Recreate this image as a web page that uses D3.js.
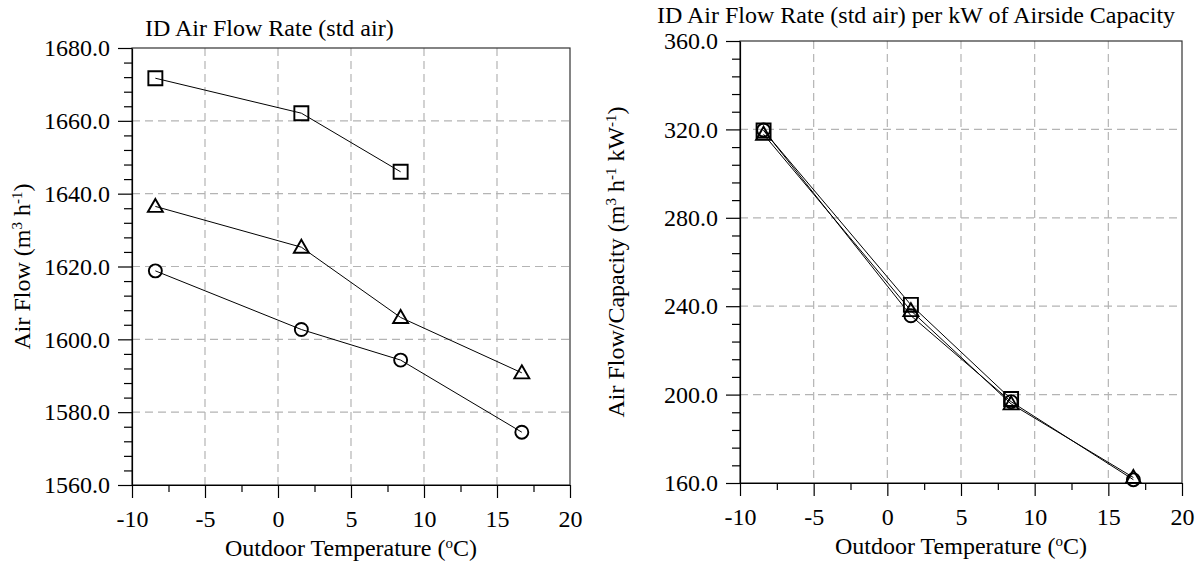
<!DOCTYPE html>
<html>
<head>
<meta charset="utf-8">
<script src="https://cdn.jsdelivr.net/npm/d3@7"></script>
<style>
  body { margin: 0; background: #fff; }
  svg { display: block; }
  svg text { font-family: "Liberation Serif", "Times New Roman", serif !important; fill: #000; }
</style>
</head>
<body>
<svg id="chart" width="1202" height="566"></svg>
<script>
// Outdoor temperatures of the test points (°C)
const temps = [-8.4, 1.6, 8.4, 16.7];

// Indoor air flow rate, std air (m3/h)
const flowSquare   = [1671.7, 1662.1, 1646.0];
const flowTriangle = [1636.5, 1625.3, 1606.0, 1590.8];
const flowCircle   = [1618.8, 1602.7, 1594.3, 1574.5];

// Indoor air flow rate per kW of airside capacity (m3 h-1 kW-1)
const perKwSquare   = [319.5, 240.6, 198.0];
const perKwTriangle = [317.8, 238.0, 195.8, 162.5];
const perKwCircle   = [319.7, 235.7, 196.8, 161.5];

// Tick values
const xTicks = [-10, -5, 0, 5, 10, 15, 20];
const xMinorTicks = [-7.5, -2.5, 2.5, 7.5, 12.5, 17.5];
const flowTicks = [1560, 1580, 1600, 1620, 1640, 1660, 1680];
const perKwTicks = [160, 200, 240, 280, 320, 360];

const svg = d3.select("#chart");
const FONT = 24;
const SERIF = '"Liberation Serif", "Times New Roman", serif';

function symbolPath(shape) {
  if (shape === "square") return "M-7,-7H7V7H-7Z";
  if (shape === "triangle") return "M0,-7.5L7.5,5.5H-7.5Z";
  return d3.arc()({ innerRadius: 0, outerRadius: 6.5, startAngle: 0, endAngle: 2 * Math.PI });
}

function drawPanel(cfg) {
  const g = svg.append("g");
  const x = d3.scaleLinear().domain([-10, 20]).range([cfg.left, cfg.right]);
  const y = d3.scaleLinear().domain(cfg.yDomain).range([cfg.bottom, cfg.top]);

  // dashed grid
  const grid = g.append("g").attr("stroke", "#b4b4b4").attr("stroke-width", 1.2)
    .attr("stroke-dasharray", "8,5");
  grid.selectAll("line.v").data(xTicks.slice(1, -1)).join("line")
    .attr("x1", d => x(d)).attr("x2", d => x(d))
    .attr("y1", cfg.top).attr("y2", cfg.bottom);
  grid.selectAll("line.h").data(cfg.yTicks.slice(1, -1)).join("line")
    .attr("x1", cfg.left).attr("x2", cfg.right)
    .attr("y1", d => y(d)).attr("y2", d => y(d));

  // frame
  g.append("rect")
    .attr("x", cfg.left).attr("y", cfg.top)
    .attr("width", cfg.right - cfg.left).attr("height", cfg.bottom - cfg.top)
    .attr("fill", "none").attr("stroke", "#333").attr("stroke-width", 1.2);

  // x axis: major and minor ticks
  g.append("g").attr("transform", `translate(0,${cfg.bottom})`)
    .call(d3.axisBottom(x).tickValues(xTicks).tickSize(13).tickSizeOuter(0)
      .tickPadding(12).tickFormat(d => String(d)));
  g.append("g").attr("transform", `translate(0,${cfg.bottom})`)
    .call(d3.axisBottom(x).tickValues(xMinorTicks).tickSize(7).tickSizeOuter(0).tickFormat(""))
    .select(".domain").remove();

  // y axis: major and minor ticks
  g.append("g").attr("transform", `translate(${cfg.left},0)`)
    .call(d3.axisLeft(y).tickValues(cfg.yTicks).tickSize(14).tickSizeOuter(0)
      .tickPadding(8).tickFormat(d3.format(".1f")));
  g.append("g").attr("transform", `translate(${cfg.left},0)`)
    .call(d3.axisLeft(y).tickValues(d3.range(cfg.yDomain[0], cfg.yDomain[1] + 1e-9, cfg.yMinorStep)
      .filter(v => !cfg.yTicks.includes(v))).tickSize(8).tickSizeOuter(0).tickFormat(""))
    .select(".domain").remove();

  g.selectAll("g").attr("font-family", SERIF).attr("font-size", FONT);
  g.selectAll(".tick line, .domain").attr("stroke", "#000").attr("stroke-width", 1.2);
  g.selectAll(".tick text").style("font-family", SERIF).style("font-size", FONT + "px")
    .attr("fill", "#000");

  // series lines and hollow markers
  const line = d3.line().x(d => x(d[0])).y(d => y(d[1]));
  cfg.series.forEach(s => {
    const pts = s.values.map((v, i) => [temps[i], v]);
    g.append("path").datum(pts).attr("d", line)
      .attr("fill", "none").attr("stroke", "#000").attr("stroke-width", 1);
    g.selectAll(null).data(pts).join("path")
      .attr("transform", d => `translate(${x(d[0])},${y(d[1])})`)
      .attr("d", symbolPath(s.shape))
      .attr("fill", "none").attr("stroke", "#000").attr("stroke-width", 1.9);
  });

  // titles
  g.append("text").attr("x", cfg.titleX).attr("y", cfg.titleY)
    .style("font-family", SERIF).attr("font-size", FONT).text(cfg.title);

  const xt = g.append("text").attr("x", (cfg.left + cfg.right) / 2).attr("y", cfg.xTitleY)
    .style("font-family", SERIF).attr("text-anchor", "middle").attr("font-size", FONT);
  xt.append("tspan").text("Outdoor Temperature (");
  xt.append("tspan").attr("font-size", 15).attr("dy", -8).text("o");
  xt.append("tspan").attr("dy", 8).text("C)");

  const yt = g.append("text")
    .attr("transform", `translate(${cfg.yTitleX},${(cfg.top + cfg.bottom) / 2}) rotate(-90)`)
    .style("font-family", SERIF).attr("text-anchor", "middle").attr("font-size", FONT);
  cfg.yTitle.forEach(part => {
    const t = yt.append("tspan").text(part.t);
    if (part.sup) t.attr("font-size", 15).attr("dy", -8);
    if (part.after) t.attr("dy", 8);
  });
}

drawPanel({
  left: 132, right: 570, top: 48, bottom: 485,
  yDomain: [1560, 1680], yTicks: flowTicks, yMinorStep: 4,
  title: "ID Air Flow Rate (std air)", titleX: 145, titleY: 36,
  xTitleY: 556, yTitleX: 30,
  yTitle: [{ t: "Air Flow (m" }, { t: "3", sup: true }, { t: " h", after: true },
           { t: "-1", sup: true }, { t: ")", after: true }],
  series: [
    { shape: "square", values: flowSquare },
    { shape: "triangle", values: flowTriangle },
    { shape: "circle", values: flowCircle }
  ]
});

drawPanel({
  left: 740, right: 1182, top: 41, bottom: 483,
  yDomain: [160, 360], yTicks: perKwTicks, yMinorStep: 8,
  title: "ID Air Flow Rate (std air) per kW of Airside Capacity", titleX: 657, titleY: 23,
  xTitleY: 554, yTitleX: 624,
  yTitle: [{ t: "Air Flow/Capacity (m" }, { t: "3", sup: true }, { t: " h", after: true },
           { t: "-1", sup: true }, { t: " kW", after: true }, { t: "-1", sup: true },
           { t: ")", after: true }],
  series: [
    { shape: "square", values: perKwSquare },
    { shape: "triangle", values: perKwTriangle },
    { shape: "circle", values: perKwCircle }
  ]
});
</script>
</body>
</html>
